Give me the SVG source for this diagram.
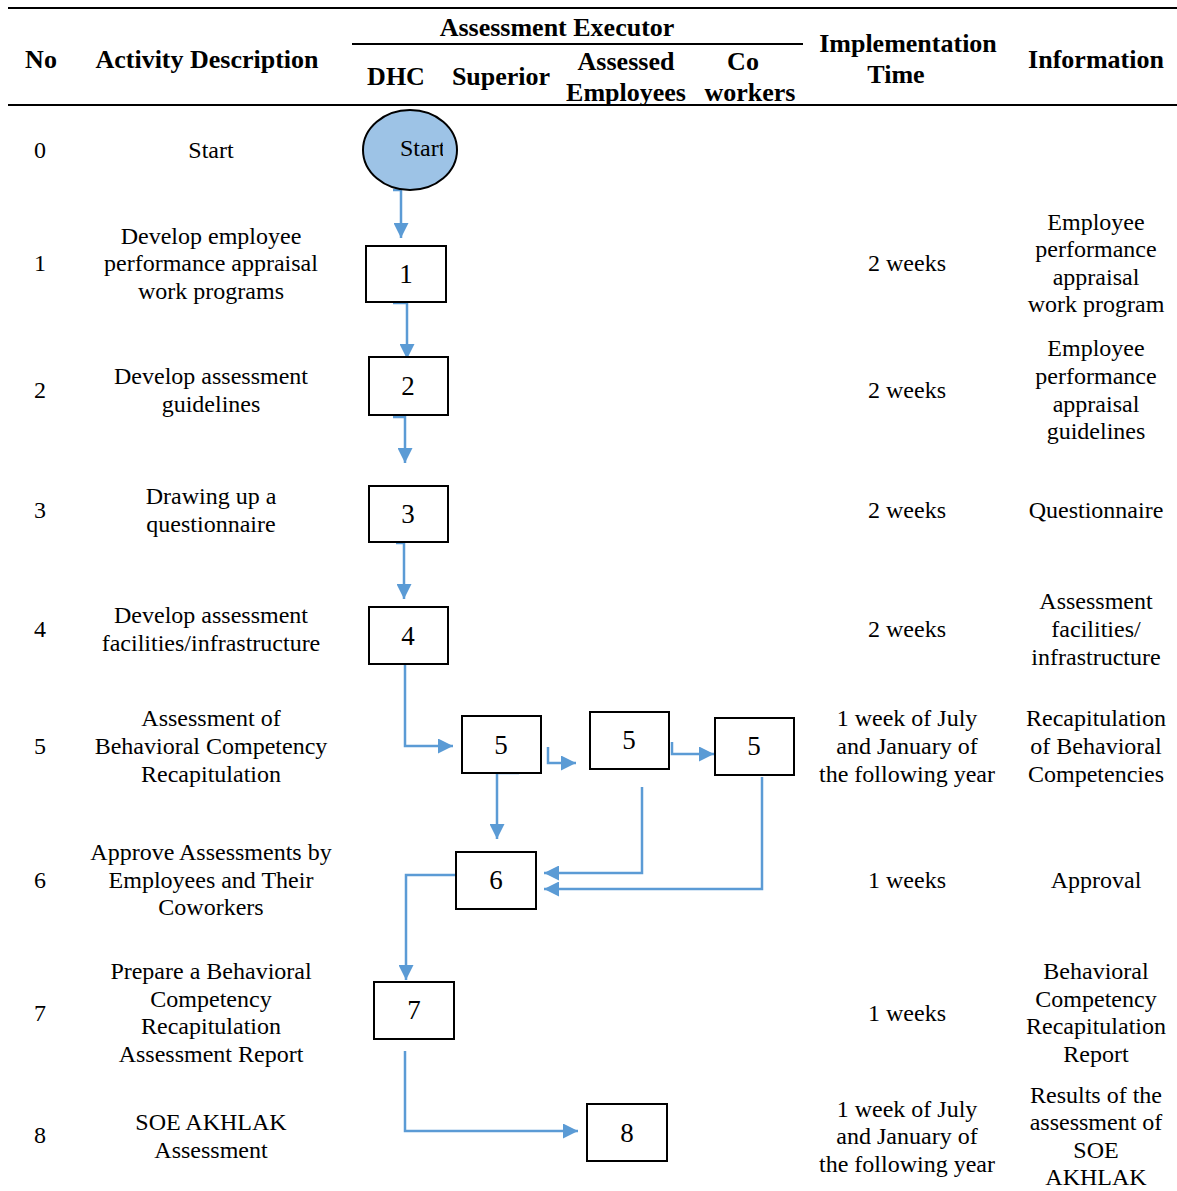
<svg xmlns="http://www.w3.org/2000/svg" width="1177" height="1191" viewBox="0 0 1177 1191">
<style>
.h{font-family:"Liberation Serif","Times New Roman",serif;font-weight:bold;font-size:26px;fill:#000;text-anchor:middle}
.t{font-family:"Liberation Serif","Times New Roman",serif;font-size:24px;fill:#000;text-anchor:middle}
.n{font-family:"Liberation Serif","Times New Roman",serif;font-size:27px;fill:#000;text-anchor:middle}
.box{fill:#fff;stroke:#000;stroke-width:2}
.rule{stroke:#000;stroke-width:2}
.c{fill:none;stroke:#5B9BD5;stroke-width:2.5;marker-end:url(#ah)}
</style>
<defs>
<marker id="ah" viewBox="0 0 10 10" refX="10" refY="5" markerWidth="15" markerHeight="15" markerUnits="userSpaceOnUse" orient="auto">
<path d="M0,0 L10,5 L0,10 z" fill="#5B9BD5"/>
</marker>
<clipPath id="stclip"><rect x="360" y="110" width="83" height="80"/></clipPath>
</defs>
<rect width="1177" height="1191" fill="#fff"/>

<g id="header">
<line class="rule" x1="8" y1="8" x2="1177" y2="8"/>
<line class="rule" x1="8" y1="105" x2="1177" y2="105"/>
<line class="rule" x1="352" y1="44" x2="803" y2="44"/>
<text class="h" x="41" y="68">No</text>
<text class="h" x="207" y="68">Activity Description</text>
<text class="h" x="557" y="36">Assessment Executor</text>
<text class="h" x="396" y="85">DHC</text>
<text class="h" x="501" y="85">Superior</text>
<text class="h" x="626" y="70">Assessed</text>
<text class="h" x="626" y="101">Employees</text>
<text class="h" x="743" y="70">Co</text>
<text class="h" x="750" y="101">workers</text>
<text class="h" x="908" y="52">Implementation</text>
<text class="h" x="896" y="83">Time</text>
<text class="h" x="1096" y="68">Information</text>
</g>

<g id="rows">
<text class="t" x="40" y="158">0</text>
<text class="t" x="211" y="158">Start</text>

<text class="t" x="40" y="271">1</text>
<text class="t" x="211" y="244">Develop employee</text>
<text class="t" x="211" y="271">performance appraisal</text>
<text class="t" x="211" y="299">work programs</text>
<text class="t" x="907" y="271">2 weeks</text>
<text class="t" x="1096" y="230">Employee</text>
<text class="t" x="1096" y="257">performance</text>
<text class="t" x="1096" y="285">appraisal</text>
<text class="t" x="1096" y="312">work program</text>

<text class="t" x="40" y="398">2</text>
<text class="t" x="211" y="384">Develop assessment</text>
<text class="t" x="211" y="412">guidelines</text>
<text class="t" x="907" y="398">2 weeks</text>
<text class="t" x="1096" y="356">Employee</text>
<text class="t" x="1096" y="384">performance</text>
<text class="t" x="1096" y="412">appraisal</text>
<text class="t" x="1096" y="439">guidelines</text>

<text class="t" x="40" y="518">3</text>
<text class="t" x="211" y="504">Drawing up a</text>
<text class="t" x="211" y="532">questionnaire</text>
<text class="t" x="907" y="518">2 weeks</text>
<text class="t" x="1096" y="518">Questionnaire</text>

<text class="t" x="40" y="637">4</text>
<text class="t" x="211" y="623">Develop assessment</text>
<text class="t" x="211" y="651">facilities/infrastructure</text>
<text class="t" x="907" y="637">2 weeks</text>
<text class="t" x="1096" y="609">Assessment</text>
<text class="t" x="1096" y="637">facilities/</text>
<text class="t" x="1096" y="665">infrastructure</text>

<text class="t" x="40" y="754">5</text>
<text class="t" x="211" y="726">Assessment of</text>
<text class="t" x="211" y="754">Behavioral Competency</text>
<text class="t" x="211" y="782">Recapitulation</text>
<text class="t" x="907" y="726">1 week of July</text>
<text class="t" x="907" y="754">and January of</text>
<text class="t" x="907" y="782">the following year</text>
<text class="t" x="1096" y="726">Recapitulation</text>
<text class="t" x="1096" y="754">of Behavioral</text>
<text class="t" x="1096" y="782">Competencies</text>

<text class="t" x="40" y="888">6</text>
<text class="t" x="211" y="860">Approve Assessments by</text>
<text class="t" x="211" y="888">Employees and Their</text>
<text class="t" x="211" y="915">Coworkers</text>
<text class="t" x="907" y="888">1 weeks</text>
<text class="t" x="1096" y="888">Approval</text>

<text class="t" x="40" y="1021">7</text>
<text class="t" x="211" y="979">Prepare a Behavioral</text>
<text class="t" x="211" y="1007">Competency</text>
<text class="t" x="211" y="1034">Recapitulation</text>
<text class="t" x="211" y="1062">Assessment Report</text>
<text class="t" x="907" y="1021">1 weeks</text>
<text class="t" x="1096" y="979">Behavioral</text>
<text class="t" x="1096" y="1007">Competency</text>
<text class="t" x="1096" y="1034">Recapitulation</text>
<text class="t" x="1096" y="1062">Report</text>

<text class="t" x="40" y="1143">8</text>
<text class="t" x="211" y="1130">SOE AKHLAK</text>
<text class="t" x="211" y="1158">Assessment</text>
<text class="t" x="907" y="1117">1 week of July</text>
<text class="t" x="907" y="1144">and January of</text>
<text class="t" x="907" y="1172">the following year</text>
<text class="t" x="1096" y="1103">Results of the</text>
<text class="t" x="1096" y="1130">assessment of</text>
<text class="t" x="1096" y="1158">SOE</text>
<text class="t" x="1096" y="1185">AKHLAK</text>
</g>

<g id="connectors">
<path class="c" d="M393,190 H401 V238"/>
<path class="c" d="M393,303 H407 V359"/>
<path class="c" d="M393,417 H405 V463"/>
<path class="c" d="M396,543 H404 V599"/>
<path class="c" d="M405,664 V746 H453"/>
<path class="c" d="M548,747 V763 H576"/>
<path class="c" d="M672,742 V754 H714"/>
<path class="c" d="M519,773 H497 V839"/>
<path class="c" d="M642,787 V873 H544"/>
<path class="c" d="M762,777 V889 H544"/>
<path class="c" d="M456,875 H406 V980"/>
<path class="c" d="M405,1051 V1131 H578"/>
</g>

<g id="node-start">
<ellipse cx="410" cy="150" rx="47" ry="40" fill="#9DC3E6" stroke="#000" stroke-width="2"/>
<text class="t" x="400" y="156" style="text-anchor:start" clip-path="url(#stclip)">Start</text>
</g>
<g id="node-1"><rect class="box" x="366" y="246" width="80" height="56"/><text class="n" x="406" y="283">1</text></g>
<g id="node-2"><rect class="box" x="369" y="357" width="79" height="58"/><text class="n" x="408" y="395">2</text></g>
<g id="node-3"><rect class="box" x="369" y="486" width="79" height="56"/><text class="n" x="408" y="523">3</text></g>
<g id="node-4"><rect class="box" x="369" y="607" width="79" height="57"/><text class="n" x="408" y="645">4</text></g>
<g id="node-5a"><rect class="box" x="462" y="716" width="79" height="57"/><text class="n" x="501" y="754">5</text></g>
<g id="node-5b"><rect class="box" x="590" y="712" width="79" height="57"/><text class="n" x="629" y="749">5</text></g>
<g id="node-5c"><rect class="box" x="715" y="718" width="79" height="57"/><text class="n" x="754" y="755">5</text></g>
<g id="node-6"><rect class="box" x="456" y="852" width="80" height="57"/><text class="n" x="496" y="889">6</text></g>
<g id="node-7"><rect class="box" x="374" y="982" width="80" height="57"/><text class="n" x="414" y="1019">7</text></g>
<g id="node-8"><rect class="box" x="587" y="1104" width="80" height="57"/><text class="n" x="627" y="1142">8</text></g>
</svg>
